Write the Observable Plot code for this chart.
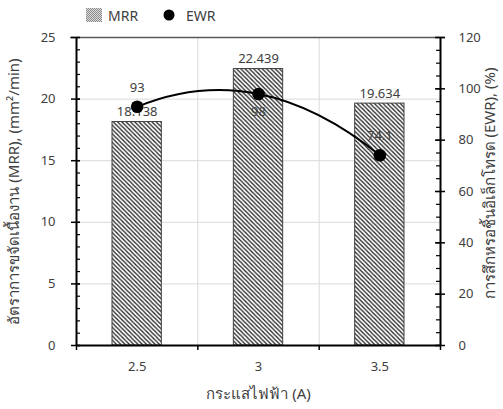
<!DOCTYPE html>
<html>
<head>
<meta charset="utf-8">
<script src="https://cdn.jsdelivr.net/npm/d3@7"></script>
<script src="https://cdn.jsdelivr.net/npm/@observablehq/plot@0.6"></script>
<style>
  html, body { margin: 0; padding: 0; background: #fff; }
  body { position: relative; width: 503px; height: 409px; overflow: hidden; font-family: "Noto Sans", "Open Sans", sans-serif; }
  #legend { position: absolute; left: 0; top: 0; width: 503px; height: 30px; font-size: 14px; color: #404040; z-index: 2; }
  #legend .item { position: absolute; top: 0; height: 30px; display: flex; align-items: center; }
  #legend svg { display: block; }
  #chart svg { display: block; }
</style>
</head>
<body>
<div id="chart"></div>
<div id="legend"></div>
<script>
// ---- data ----
const current = [2.5, 3, 3.5];            // กระแสไฟฟ้า (A)
const mrr = [18.138, 22.439, 19.634];     // mm²/min
const ewr = [93, 98, 74.1];               // %
const xBounds = [2.25, 2.75, 3.25, 3.75]; // category boundaries
const mrrMajor = [0, 5, 10, 15, 20, 25];
const mrrMinor = d3.range(0, 26, 1);
const ewrMajor = [0, 20, 40, 60, 80, 100, 120];
const ewrMinor = d3.range(0, 121, 5);
const seriesNames = ["MRR", "EWR"];
const titleX = "กระแสไฟฟ้า (A)";
const titleLeft = "อัตราการขจัดเนื้องาน (MRR), (mm²/min)";
const titleRight = "การสึกหรอชิ้นอิเล็กโทรด (EWR), (%)";

const K = 25 / 120; // EWR -> MRR scale
const rows = current.map((x, i) => ({x, mrr: mrr[i], ewr: ewr[i], ewrS: ewr[i] * K}));

const textColor = "#404040";
const font = '"Noto Sans", "Open Sans", sans-serif';
const W = 503, H = 409, mL = 76, mR = 63, mT = 37, mB = 64;
const frameW = W - mL - mR, frameH = H - mT - mB;

// smooth (spreadsheet-like) curve: cubic Hermite with three-point parabolic tangents
function curveSmooth(context) {
  let X, Y;
  return {
    areaStart() {}, areaEnd() {},
    lineStart() { X = []; Y = []; },
    point(x, y) { X.push(+x); Y.push(+y); },
    lineEnd() {
      const n = X.length;
      if (!n) return;
      context.moveTo(X[0], Y[0]);
      if (n < 3) { for (let i = 1; i < n; i++) context.lineTo(X[i], Y[i]); return; }
      const d = [], m = [];
      for (let i = 0; i < n - 1; i++) d.push((Y[i + 1] - Y[i]) / (X[i + 1] - X[i]));
      for (let i = 1; i < n - 1; i++) {
        const h0 = X[i] - X[i - 1], h1 = X[i + 1] - X[i];
        m[i] = (d[i - 1] * h1 + d[i] * h0) / (h0 + h1);
      }
      m[0] = 2 * d[0] - m[1];
      m[n - 1] = 2 * d[n - 2] - m[n - 2];
      for (let i = 0; i < n - 1; i++) {
        const h = (X[i + 1] - X[i]) / 3;
        context.bezierCurveTo(X[i] + h, Y[i] + m[i] * h, X[i + 1] - h, Y[i + 1] - m[i + 1] * h, X[i + 1], Y[i + 1]);
      }
    }
  };
}

// legend
const legend = document.getElementById("legend");
legend.innerHTML = `
<div class="item" style="left:86px">
  <svg width="16" height="14"><defs><pattern id="lg" width="2" height="2" patternUnits="userSpaceOnUse">
  <rect width="2" height="2" fill="#dcdcdc"/><rect width="1" height="1" fill="#8a8a8a"/><rect x="1" y="1" width="1" height="1" fill="#8a8a8a"/></pattern></defs>
  <rect width="16" height="14" fill="url(#lg)"/></svg>
  <span style="margin-left:6px">${seriesNames[0]}</span></div>
<div class="item" style="left:163px">
  <svg width="12" height="12"><circle cx="6" cy="6" r="5.5" fill="#000"/></svg>
  <span style="margin-left:11px">${seriesNames[1]}</span></div>`;

const defs = () => {
  const svg = d3.create("svg:defs");
  const s = 4.3;
  const p = svg.append("pattern").attr("id", "hatch").attr("patternUnits", "userSpaceOnUse")
    .attr("width", s).attr("height", s);
  p.append("rect").attr("width", s).attr("height", s).attr("fill", "#fff");
  for (const o of [-s, 0, s]) {
    p.append("line").attr("x1", -1 + o).attr("y1", -1).attr("x2", s + 1 + o).attr("y2", s + 1)
      .attr("stroke", "#222").attr("stroke-width", 1.3);
  }
  return svg.node();
};

const chart = Plot.plot({
  width: W,
  height: H,
  marginTop: mT,
  marginBottom: mB,
  marginLeft: mL,
  marginRight: mR,
  style: {fontFamily: font, fontSize: "13px", color: textColor, background: "#fff"},
  x: {type: "linear", domain: [xBounds[0], xBounds[xBounds.length - 1]], axis: null},
  y: {domain: [0, 25], axis: null},
  marks: [
    defs,
    Plot.gridY({ticks: mrrMajor.slice(1, -1), stroke: "#d9d9d9", strokeOpacity: 1}),
    Plot.gridX({ticks: xBounds.slice(1, -1), stroke: "#d9d9d9", strokeOpacity: 1}),
    Plot.ruleY([25], {stroke: "#595959", strokeWidth: 1.5, insetLeft: -6, insetRight: -5}),
    Plot.rectY(rows, {x1: d => d.x - 0.25, x2: d => d.x + 0.25, y: "mrr", insetLeft: 36, insetRight: 36,
      fill: "url(#hatch)", stroke: "#404040", strokeWidth: 1}),
    // axis lines
    Plot.ruleX([xBounds[0], xBounds[xBounds.length - 1]], {stroke: "#000", strokeWidth: 2}),
    Plot.ruleY([0], {stroke: "#000", strokeWidth: 2}),
    // left axis ticks
    Plot.ruleY(mrrMajor, {stroke: "#000", strokeWidth: 1.5, insetLeft: -5, insetRight: frameW - 4}),
    Plot.ruleY(mrrMinor, {stroke: "#000", strokeWidth: 1.2, insetLeft: 0, insetRight: frameW - 4}),
    Plot.axisY({anchor: "left", ticks: mrrMajor, tickSize: 0, tickPadding: 21, label: null, fill: textColor, fontSize: 13}),
    // right axis ticks
    Plot.ruleY(ewrMajor.map(v => v * K), {stroke: "#000", strokeWidth: 1.5, insetLeft: frameW - 5, insetRight: -5}),
    Plot.ruleY(ewrMinor.map(v => v * K), {stroke: "#000", strokeWidth: 1.2, insetLeft: frameW - 4, insetRight: 0}),
    Plot.axisY({anchor: "right", ticks: ewrMajor.map(v => v * K), tickSize: 0, tickPadding: 18, label: null,
      tickFormat: d => d3.format("d")(Math.round(d / K)), fill: textColor, fontSize: 13}),
    // bottom axis
    Plot.ruleX(xBounds, {stroke: "#000", strokeWidth: 1.5, insetTop: frameH, insetBottom: -5}),
    Plot.axisX({ticks: current, tickSize: 0, tickPadding: 16, label: null, tickFormat: d => String(d), fill: textColor, fontSize: 13}),
    // bar labels
    Plot.text(rows, {x: "x", y: "mrr", text: d => d3.format(".3f")(d.mrr), dy: -10, fill: textColor, fontSize: 13}),
    // EWR line + dots
    Plot.line(rows, {x: "x", y: "ewrS", curve: curveSmooth, stroke: "#000", strokeWidth: 2}),
    Plot.dot(rows, {x: "x", y: "ewrS", r: 6.3, fill: "#000"}),
    Plot.text(rows, {filter: (d, i) => i !== 1, x: "x", y: "ewrS", text: d => String(d.ewr), dy: -19, fill: textColor, fontSize: 13}),
    Plot.text(rows, {filter: (d, i) => i === 1, x: "x", y: "ewrS", text: d => String(d.ewr), dy: 18, fill: textColor, fontSize: 13}),
    // titles
    Plot.text([titleX], {frameAnchor: "bottom", dy: 53, fill: textColor, fontSize: 15}),
    Plot.text([titleLeft], {frameAnchor: "left", textAnchor: "middle", dx: -62, rotate: -90, fill: textColor, fontSize: 15}),
    Plot.text([titleRight], {frameAnchor: "right", textAnchor: "middle", dx: 50, dy: -8, rotate: -90, fill: textColor, fontSize: 15})
  ]
});
document.getElementById("chart").appendChild(chart);
</script>
</body>
</html>
